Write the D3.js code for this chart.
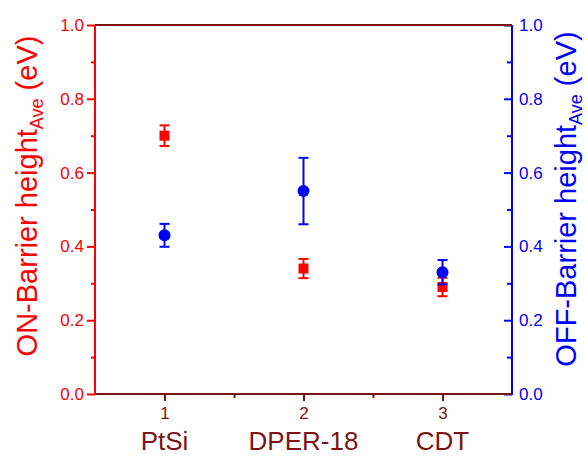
<!DOCTYPE html>
<html>
<head>
<meta charset="utf-8">
<script src="https://cdn.jsdelivr.net/npm/d3@7.8.5/dist/d3.min.js"></script>
<style>
  html, body { margin: 0; padding: 0; background: #fff; }
  svg { display: block; font-family: "Liberation Sans", Arial, sans-serif; }
</style>
</head>
<body>
<svg id="chart" width="587" height="457"></svg>
<script>
// Data
const categories = ['PtSi', 'DPER-18', 'CDT'];
const xPos = [1, 2, 3];
const onMean = [0.70, 0.34, 0.29];
const onErr = [0.028, 0.026, 0.025];
const offMean = [0.43, 0.55, 0.33];
const offErr = [0.031, 0.09, 0.033];
const yTicks = [0, 0.2, 0.4, 0.6, 0.8, 1.0];
const yMinor = [0.1, 0.3, 0.5, 0.7, 0.9];
const xMinor = [1.5, 2.5];

const RED = '#ff0000';
const BLUE = '#0000ff';
const DARK = '#7d1414';

const margin = { top: 25, right: 75, bottom: 63, left: 95 };
const width = 587, height = 457;
const innerW = width - margin.left - margin.right;
const innerH = height - margin.top - margin.bottom;

const svg = d3.select('#chart');
const g = svg.append('g').attr('transform', `translate(${margin.left},${margin.top})`);

const x = d3.scaleLinear().domain([0.5, 3.5]).range([0, innerW]);
const yOn = d3.scaleLinear().domain([0, 1]).range([innerH, 0]);
const yOff = d3.scaleLinear().domain([0, 1]).range([innerH, 0]);

function styleAxis(sel, color, fontSize) {
    sel.select('.domain').remove();
    sel.selectAll('line').attr('stroke', color).attr('stroke-width', 2);
    sel.selectAll('text').attr('fill', color).style('font-size', fontSize + 'px')
        .style('font-family', '"Liberation Sans", Arial, sans-serif');
}

// Left axis (ON)
g.append('g')
    .call(d3.axisLeft(yOn).tickValues(yMinor).tickSize(4).tickFormat(''))
    .call(s => styleAxis(s, RED, 17));
g.append('g')
    .call(d3.axisLeft(yOn).tickValues(yTicks).tickSize(8).tickPadding(3).tickFormat(d3.format('.1f')))
    .call(s => styleAxis(s, RED, 17));

// Right axis (OFF), ticks pointing inward
g.append('g')
    .attr('transform', `translate(${innerW},0)`)
    .call(d3.axisRight(yOff).tickValues(yMinor).tickSize(-5).tickFormat(''))
    .call(s => styleAxis(s, BLUE, 17));
g.append('g')
    .attr('transform', `translate(${innerW},0)`)
    .call(d3.axisRight(yOff).tickValues(yTicks).tickSizeInner(-8).tickSizeOuter(0).tickPadding(7).tickFormat(d3.format('.1f')))
    .call(s => styleAxis(s, BLUE, 17));

// Bottom axis
g.append('g')
    .attr('transform', `translate(0,${innerH})`)
    .call(d3.axisBottom(x).tickValues(xMinor).tickSize(4).tickFormat(''))
    .call(s => styleAxis(s, DARK, 17));
g.append('g')
    .attr('transform', `translate(0,${innerH})`)
    .call(d3.axisBottom(x).tickValues(xPos).tickSize(7).tickPadding(6).tickFormat(d3.format('d')))
    .call(s => styleAxis(s, DARK, 17));

// Category labels under tick numbers
g.append('g').selectAll('text.cat')
    .data(categories)
    .join('text')
    .attr('class', 'cat')
    .attr('x', (d, i) => x(xPos[i]))
    .attr('y', innerH + 56)
    .attr('text-anchor', 'middle')
    .attr('fill', DARK)
    .style('font-size', '26px')
    .text(d => d);

// Frame lines
g.append('line').attr('x1', 0).attr('x2', innerW).attr('y1', 0).attr('y2', 0)
    .attr('stroke', DARK).attr('stroke-width', 2);
g.append('line').attr('x1', 0).attr('x2', innerW).attr('y1', innerH).attr('y2', innerH)
    .attr('stroke', DARK).attr('stroke-width', 2);
g.append('line').attr('x1', 0).attr('x2', 0).attr('y1', 0).attr('y2', innerH + 1)
    .attr('stroke', RED).attr('stroke-width', 2);
g.append('line').attr('x1', innerW).attr('x2', innerW).attr('y1', 0).attr('y2', innerH + 1)
    .attr('stroke', BLUE).attr('stroke-width', 2);

// Error bars helper
function errorBars(cls, mean, err, y, color) {
    const data = xPos.map((xv, i) => ({ x: xv, m: mean[i], e: err[i] }));
    const eb = g.append('g').selectAll('g.' + cls).data(data).join('g').attr('class', cls);
    eb.append('line')
        .attr('x1', d => x(d.x)).attr('x2', d => x(d.x))
        .attr('y1', d => y(d.m + d.e)).attr('y2', d => y(d.m - d.e))
        .attr('stroke', color).attr('stroke-width', 2);
    [1, -1].forEach(sgn => {
        eb.append('line')
            .attr('x1', d => x(d.x) - 5).attr('x2', d => x(d.x) + 5)
            .attr('y1', d => y(d.m + sgn * d.e)).attr('y2', d => y(d.m + sgn * d.e))
            .attr('stroke', color).attr('stroke-width', 2);
    });
    return data;
}

// ON series: red squares
const onData = errorBars('on-eb', onMean, onErr, yOn, RED);
g.append('g').selectAll('rect').data(onData).join('rect')
    .attr('x', d => x(d.x) - 5).attr('y', d => yOn(d.m) - 5)
    .attr('width', 10).attr('height', 10)
    .attr('fill', RED);

// OFF series: blue circles
const offData = errorBars('off-eb', offMean, offErr, yOff, BLUE);
g.append('g').selectAll('circle').data(offData).join('circle')
    .attr('cx', d => x(d.x)).attr('cy', d => yOff(d.m))
    .attr('r', 6)
    .attr('fill', BLUE);

// Axis titles
function axisTitle(main, sub, tail, tx, ty, color) {
    const t = svg.append('text')
        .attr('transform', `translate(${tx},${ty}) rotate(-90)`)
        .attr('text-anchor', 'middle')
        .attr('fill', color)
        .style('font-size', '29px');
    t.append('tspan').text(main);
    t.append('tspan').text(sub).style('font-size', '18px').attr('dy', 6);
    t.append('tspan').text(tail).attr('dy', -6);
}
axisTitle('ON-Barrier height', 'Ave', '  (eV)', 37, 196, RED);
axisTitle('OFF-Barrier height', 'Ave', '  (eV)', 576, 199, BLUE);
</script>
</body>
</html>
